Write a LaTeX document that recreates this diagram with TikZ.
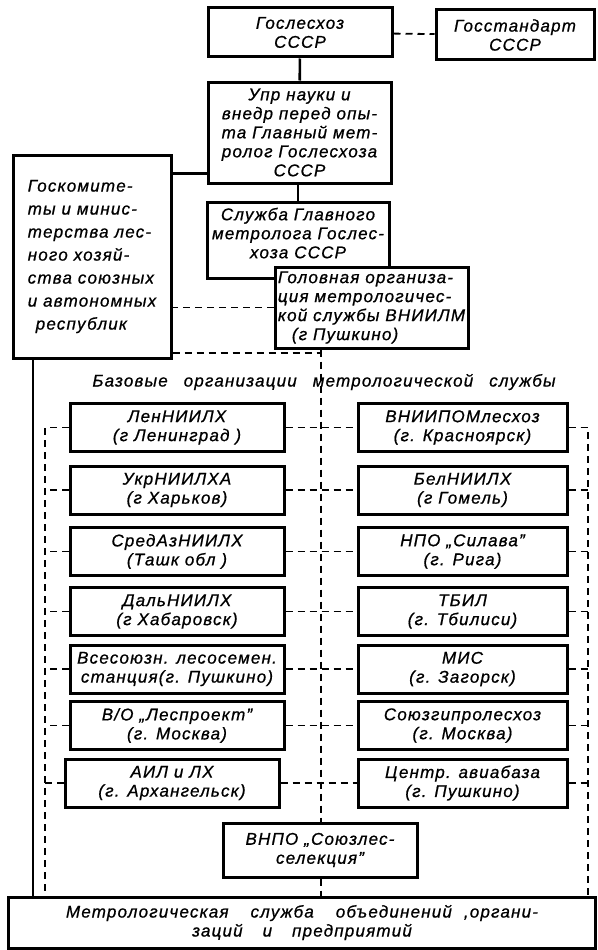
\documentclass[tikz,border=0pt]{standalone}
\usepackage{fontspec}
\newfontfamily\gostfont{Liberation Sans}[LetterSpace=7, FakeBold=0.8]
\usetikzlibrary{calc}
\tikzset {
    org box/.style = {draw, line width = 3pt, fill = white, align = center,
        inner sep = 2pt, font = \gostfont\itshape\fontsize{17}{19}\selectfont},
    row box/.style = {org box, minimum height = 48pt},
    left box/.style = {row box, minimum width = 214pt},
    right box/.style = {row box, minimum width = 209pt},
    solid link/.style = {line width = 2.6pt},
    dashed link/.style = {line width = 1.8pt, dash pattern = on 7pt off 5pt},
    caption/.style = {font = \gostfont\itshape\fontsize{17}{19}\selectfont, inner sep = 1pt}
}

\begin{document}
\begin{tikzpicture}[x = 1pt, y = -1pt]
    \useasboundingbox (0, 0) rectangle (597, 950);
    % upper part
    \node[org box, minimum width = 184pt, minimum height = 49pt] (goslesh) at (300, 32.5) {Гослесхоз\\СССР};
    \node[org box, minimum width = 158pt, minimum height = 50pt] (gosst) at (515, 35) {Госстандарт\\СССР};
    \node[org box, minimum width = 183pt, minimum height = 101pt] (upr) at (299.5, 132.5)
        {Упр науки и\\внедр перед опы-\\та Главный мет-\\ролог Гослесхоза\\СССР};
    \node[org box, minimum width = 182pt, minimum height = 76pt, text depth = 14pt] (sluzh) at (298, 240)
        {Служба Главного\\метролога Гослес-\\хоза СССР};
    \node[org box, align = left, minimum width = 193pt, minimum height = 81pt] (golov) at (371.5, 307.5)
        {Головная организа-\\ция метрологичес-\\кой службы ВНИИЛМ\\\hspace*{14pt}(г Пушкино)};
    \node[org box, align = left, minimum width = 158pt, minimum height = 203pt,
        font = \gostfont\itshape\fontsize{17}{23}\selectfont] (goskom) at (92, 256.5)
        {Госкомите-\\ты и минис-\\терства лес-\\ного хозяй-\\ства союзных\\и автономных\\\hspace*{8pt}республик};
    \node[caption] (basetitle) at (324, 382)
        {Базовые\hspace{16pt}организации\hspace{16pt}метрологической\hspace{16pt}службы};
    % base organisations
    \node[left box] (len) at (177, 427.5) {ЛенНИИЛХ\\(г Ленинград )};
    \node[left box] (ukr) at (177, 490) {УкрНИИЛХА\\(г Харьков)};
    \node[left box] (sred) at (177, 551.5) {СредАзНИИЛХ\\(Ташк обл )};
    \node[left box] (dal) at (177, 611.5) {ДальНИИЛХ\\(г Хабаровск)};
    \node[left box] (vses) at (177, 669) {Всесоюзн. лесосемен.\\станция(г. Пушкино)};
    \node[left box] (lesp) at (177, 725.5) {В/О „Леспроект”\\(г. Москва)};
    \node[left box] (ail) at (172, 783) {АИЛ и ЛХ\\(г. Архангельск)};
    \node[right box] (vniipom) at (462.5, 427.5) {ВНИИПОМлесхоз\\(г. Красноярск)};
    \node[right box] (bel) at (462.5, 490) {БелНИИЛХ\\(г Гомель)};
    \node[right box] (silava) at (462.5, 551.5) {НПО „Силава”\\(г. Рига)};
    \node[right box] (tbil) at (462.5, 611.5) {ТБИЛ\\(г. Тбилиси)};
    \node[right box] (mis) at (462.5, 669) {МИС\\(г. Загорск)};
    \node[right box] (sgpl) at (462.5, 725.5) {Союзгипролесхоз\\(г. Москва)};
    \node[right box] (centr) at (462.5, 783) {Центр. авиабаза\\(г. Пушкино)};
    \node[org box, minimum width = 194pt, minimum height = 54pt] (vnpo) at (320, 850) {ВНПО „Союзлес-\\селекция”};
    \node[org box, minimum width = 587pt, minimum height = 51pt] (bottom) at (302, 922.5)
        {Метрологическая\hspace{22pt}служба\hspace{22pt}объединений\hspace{12pt},органи-\\
         заций\hspace{20pt}и\hspace{20pt}предприятий};
    % rails
    \coordinate (trunk) at (33, 0);
    \coordinate (left rail) at (45, 0);
    \coordinate (right rail) at (588, 0);
    \coordinate (spine) at (321, 353);
    % links
    \draw[dashed link] (goslesh) -- (gosst);
    \draw[solid link] (goslesh) -- (upr);
    \draw[solid link] (upr.south -| sluzh.north) -- (sluzh.north);
    \draw[solid link] ([yshift = 11pt]upr.south west) -- ([yshift = 11pt]upr.south west -| goskom.east);
    \draw[dashed link] (golov.west) -- (golov.west -| goskom.east);
    \draw[dashed link] (goskom.east |- spine) -- (spine);
    \draw[dashed link] (golov.south -| spine) -- (vnpo.north -| spine);
    \draw[dashed link] (vnpo.south -| spine) -- (bottom.north -| spine);
    \draw[solid link] (goskom.south -| trunk) -- (bottom.north -| trunk);
    \draw[dashed link] (len.west) -- (len.west -| left rail) -- (bottom.north -| left rail);
    \draw[dashed link] (vniipom.east) -- (vniipom.east -| right rail) -- (bottom.north -| right rail);
    \foreach \l/\r in {len/vniipom, ukr/bel, sred/silava, dal/tbil, vses/mis, lesp/sgpl, ail/centr} {
        \draw[dashed link] (\l.east) -- (\r.west);
        \draw[dashed link] (\l.west) -- (\l.west -| left rail);
        \draw[dashed link] (\r.east) -- (\r.east -| right rail);
    }
\end{tikzpicture}
\end{document}
